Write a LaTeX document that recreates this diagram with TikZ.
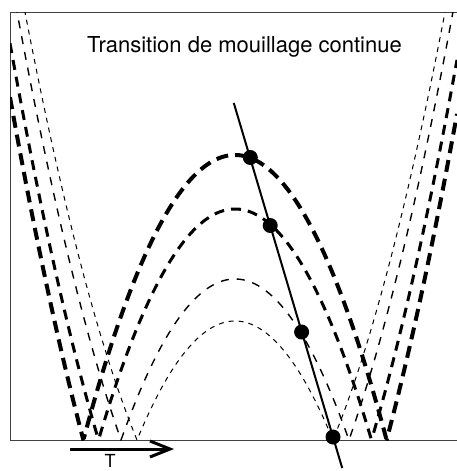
\documentclass[tikz,border=0pt]{standalone}
\usepackage{fontspec}
\setmainfont{TeX Gyre Heros}
\usetikzlibrary{arrows.meta}
\begin{document}
\begin{tikzpicture}[x=1pt,y=-1pt,
  frame/.style={line width=1pt, draw=black!75},
  cone/.style={line width=4pt, dash pattern=on 12pt off 7pt},
  ctwo/.style={line width=3pt, dash pattern=on 10pt off 7pt},
  cthree/.style={line width=1.4pt, dash pattern=on 8pt off 8pt},
  cfour/.style={line width=1pt, dash pattern=on 5pt off 5pt},
  dotnode/.style={circle, fill=black, inner sep=0pt, minimum size=15pt},
  tieline/.style={line width=2pt},
  tarrow/.style={line width=3pt, -{Straight Barb[length=20pt,width=16pt]}},
  lbl/.style={font=\fontsize{22}{26}\selectfont, inner sep=0pt, anchor=base}
]
\useasboundingbox (0,0) rectangle (457,471);
\draw[frame] (457,12) -- (10,12) -- (10,440) -- (457,440);
\begin{scope}
\clip (10,12) rectangle (457,440);
\draw[cfour] plot[domain=10:457,samples=448] (\x,{440-abs(119-2.79*((\x-235)/15)*((\x-235)/15))});
\draw[cthree] plot[domain=10:457,samples=448] (\x,{440-abs(161-2.79*((\x-235)/15)*((\x-235)/15))});
\draw[ctwo] plot[domain=10:457,samples=448] (\x,{440-abs(231-2.79*((\x-235)/15)*((\x-235)/15))});
\draw[cone] plot[domain=10:457,samples=448] (\x,{440-abs(285-2.79*((\x-235)/15)*((\x-235)/15))});
\end{scope}
\node[lbl] (title) at (244.5,52) {Transition de mouillage continue};
\coordinate (ltop) at (233.8,103);
\coordinate (lbot) at (342.2,468);
\draw[tieline] (ltop) -- (lbot);
\node[dotnode] (d1) at (250.3,157.5) {};
\node[dotnode] (d2) at (270.2,225.5) {};
\node[dotnode] (d3) at (301.6,332) {};
\node[dotnode] (d4) at (333,437) {};
\coordinate (as) at (70,449);
\coordinate (ae) at (174,449);
\draw[tarrow] (as) -- (ae);
\node[lbl, font=\fontsize{18}{22}\selectfont] (tlabel) at (110,467) {T};
\end{tikzpicture}
\end{document}
